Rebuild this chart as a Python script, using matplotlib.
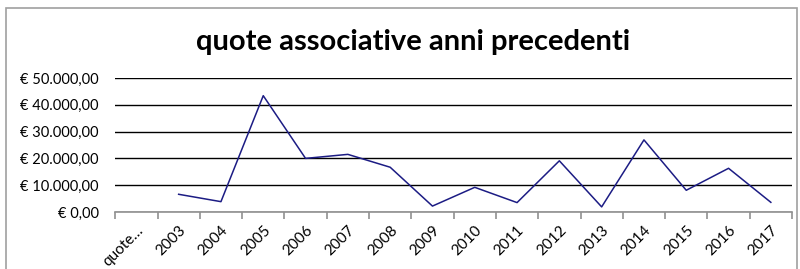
import numpy as np
import matplotlib.pyplot as plt
from matplotlib.patches import Rectangle

categorie = ['quote…', '2003', '2004', '2005', '2006', '2007', '2008', '2009',
             '2010', '2011', '2012', '2013', '2014', '2015', '2016', '2017']
quote = [np.nan, 6600, 3850, 43400, 20000, 21500, 16700, 2200,
         9200, 3500, 19100, 1900, 26900, 8100, 16300, 3600]
yticks = [0, 10000, 20000, 30000, 40000, 50000]


def euro(v):
    s = f"{v:,.2f}".replace(',', 'X').replace('.', ',').replace('X', '.')
    return '€ ' + s


plt.rcParams['font.family'] = ['Lato', 'DejaVu Sans']

fig = plt.figure(figsize=(8, 2.69), dpi=100)
fig.patches.append(Rectangle((6 / 800, -0.1), 791 / 800, 1 - 8 / 269 + 0.1,
                             transform=fig.transFigure, fill=False,
                             edgecolor='#a0a0a0', linewidth=1.2))
ax = fig.add_axes([0.144, 0.212, 0.846, 0.498])

x = np.arange(len(categorie))
ax.plot(x, quote, color='#1c1c84', linewidth=1.1)

ax.set_xlim(-0.5, len(categorie) - 0.5)
ax.set_ylim(0, 50000)
ax.set_yticks(yticks)
ax.set_yticklabels([euro(v) for v in yticks], fontsize=10.5)
ax.yaxis.grid(True, color='black', linewidth=1)
ax.set_axisbelow(True)
ax.tick_params(axis='y', length=0, pad=12)

ax.set_xticks(x)
ax.set_xticklabels(categorie, rotation=45, ha='right', rotation_mode='anchor', fontsize=11)
ax.set_xticks(np.arange(len(categorie) + 1) - 0.5, minor=True)
ax.tick_params(axis='x', which='major', length=0, pad=8)
ax.tick_params(axis='x', which='minor', length=5, color='#909090', width=1.2)

for s in ['top', 'right', 'left']:
    ax.spines[s].set_visible(False)
ax.spines['bottom'].set_color('#909090')
ax.spines['bottom'].set_linewidth(1.2)

fig.text(0.516, 0.845, 'quote associative anni precedenti', ha='center', va='center',
         fontsize=21, fontweight='bold')

fig.savefig('out.png', dpi=100)
